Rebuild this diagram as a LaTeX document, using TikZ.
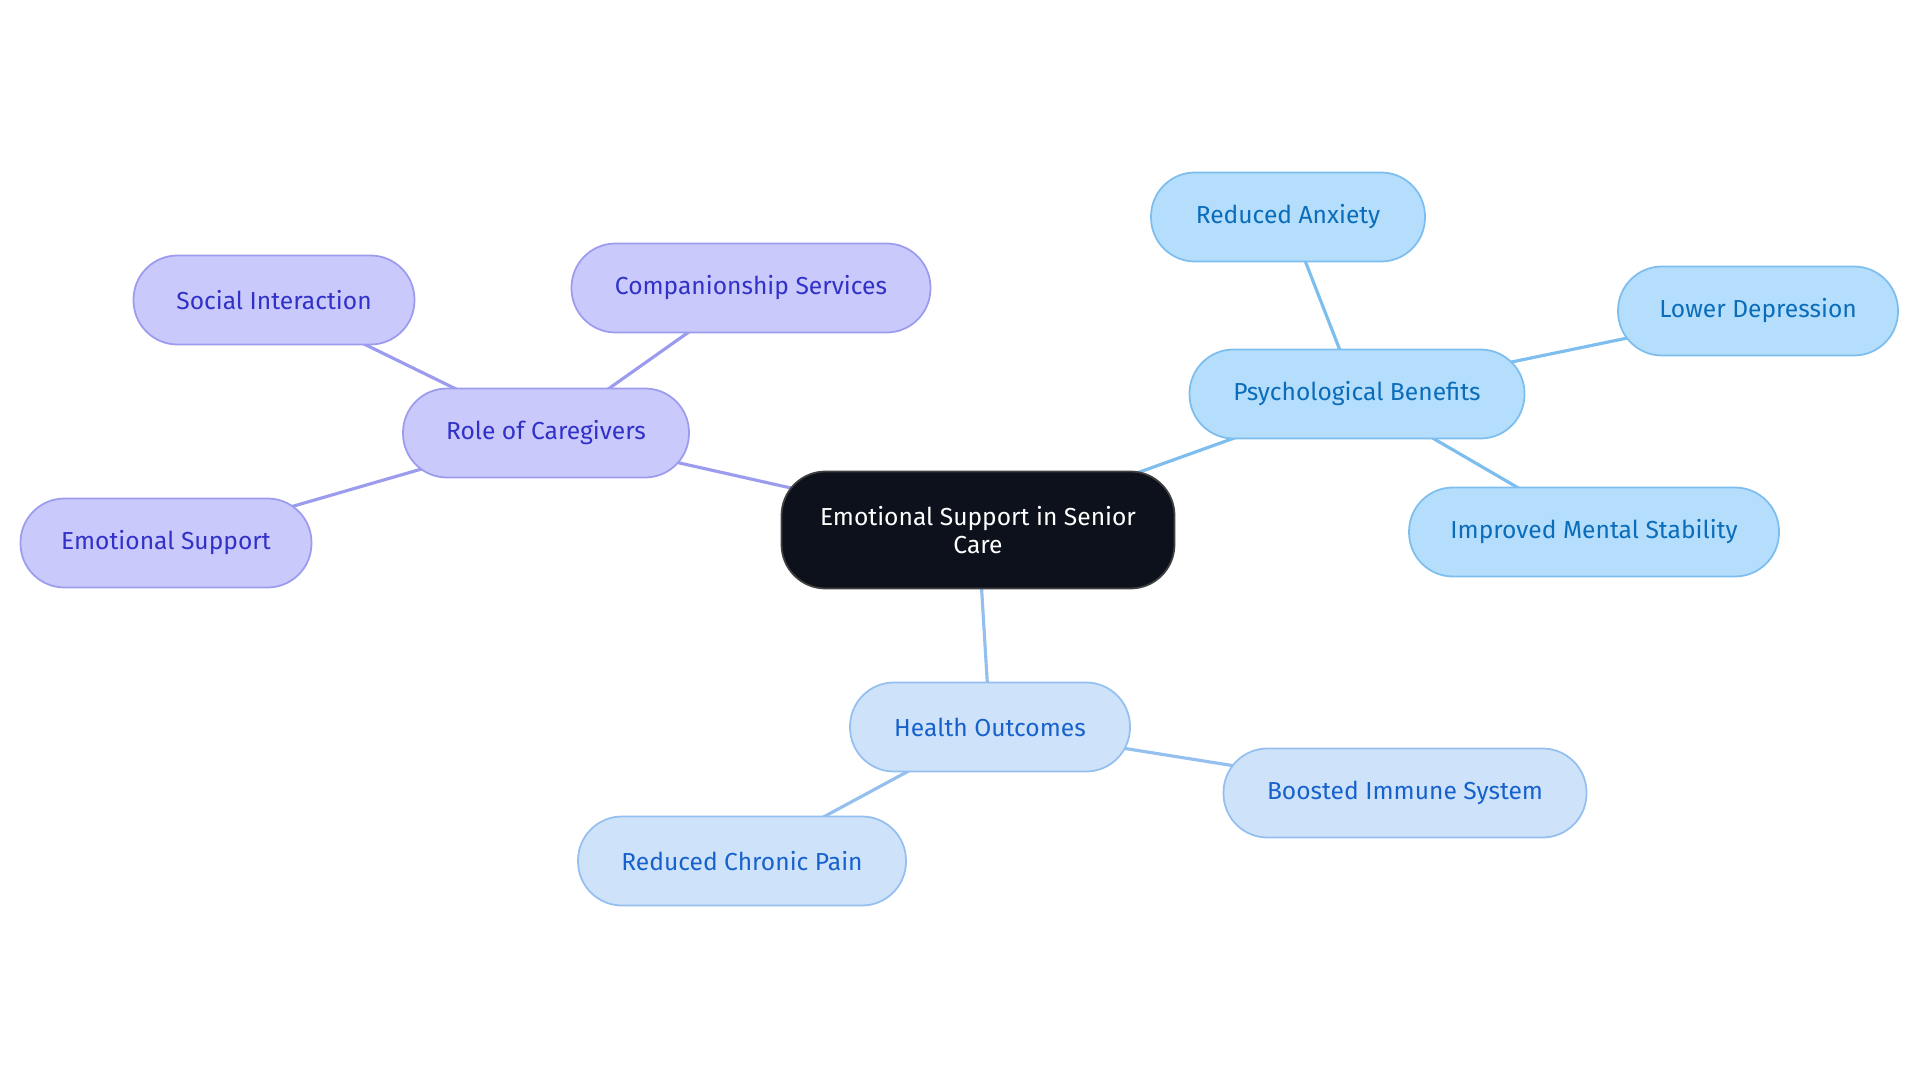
\documentclass[tikz,border=0pt]{standalone}
\usepackage{fontspec}
\setmainfont{Fira Sans}
\usetikzlibrary{backgrounds}
\definecolor{rootfill}{HTML}{0C111C}
\definecolor{carefill}{HTML}{C9C9FB}
\definecolor{careline}{HTML}{9C9CEF}
\definecolor{caretext}{HTML}{3131C8}
\definecolor{psyfill}{HTML}{B4DEFC}
\definecolor{psyline}{HTML}{7DBEEE}
\definecolor{psytext}{HTML}{0B6CBA}
\definecolor{hlthfill}{HTML}{CEE3FA}
\definecolor{hlthline}{HTML}{94BFEF}
\definecolor{hlthtext}{HTML}{1761CC}

\begin{document}
\begin{tikzpicture}[
  every node/.style={font=\fontsize{7}{8.2}\selectfont},
  pill/.style={rounded corners=0.44cm, minimum height=0.89cm, inner xsep=0.3cm, line width=0.5pt},
  care/.style={pill, fill=carefill, draw=careline, text=caretext},
  psy/.style={pill, fill=psyfill, draw=psyline, text=psytext},
  hlth/.style={pill, fill=hlthfill, draw=hlthline, text=hlthtext},
  link/.style={line width=0.9pt}
]
\useasboundingbox (0,0) rectangle (19.2,-10.83);

\node[fill=rootfill, draw=black!75, text=white, rounded corners=0.44cm, minimum width=3.93cm, minimum height=1.17cm, align=center, line width=0.5pt] (root) at (9.78,-5.30) {Emotional Support in Senior\\Care};

\node[care, minimum width=2.86cm] (care) at (5.46,-4.33) {Role of Caregivers};
\node[care, minimum width=3.59cm] (comp) at (7.51,-2.88) {Companionship Services};
\node[care, minimum width=2.81cm] (social) at (2.74,-3.00) {Social Interaction};
\node[care, minimum width=2.91cm] (emo) at (1.66,-5.43) {Emotional Support};

\node[psy, minimum width=3.35cm] (psych) at (13.57,-3.94) {Psychological Benefits};
\node[psy, minimum width=2.74cm] (anx) at (12.88,-2.17) {Reduced Anxiety};
\node[psy, minimum width=2.80cm] (dep) at (17.58,-3.11) {Lower Depression};
\node[psy, minimum width=3.70cm] (stab) at (15.94,-5.32) {Improved Mental Stability};

\node[hlth, minimum width=2.80cm] (health) at (9.90,-7.27) {Health Outcomes};
\node[hlth, minimum width=3.63cm] (immune) at (14.05,-7.93) {Boosted Immune System};
\node[hlth, minimum width=3.28cm] (pain) at (7.42,-8.61) {Reduced Chronic Pain};

\begin{pgfonlayer}{background}
\draw[link, careline] (root.center) -- (care.center);
\draw[link, careline] (care.center) -- (comp.center);
\draw[link, careline] (care.center) -- (social.center);
\draw[link, careline] (care.center) -- (emo.center);
\draw[link, psyline] (root.center) -- (psych.center);
\draw[link, psyline] (psych.center) -- (anx.center);
\draw[link, psyline] (psych.center) -- (dep.center);
\draw[link, psyline] (psych.center) -- (stab.center);
\draw[link, hlthline] (root.center) -- (health.center);
\draw[link, hlthline] (health.center) -- (immune.center);
\draw[link, hlthline] (health.center) -- (pain.center);
\end{pgfonlayer}
\end{tikzpicture}
\end{document}
